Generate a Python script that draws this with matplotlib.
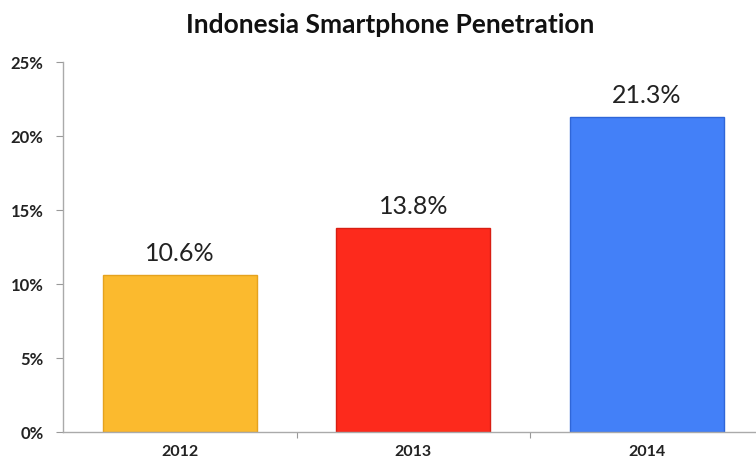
import matplotlib.pyplot as plt
from matplotlib.ticker import FuncFormatter

# data
years = ["2012", "2013", "2014"]
penetration = [10.6, 13.8, 21.3]
bar_colors = ["#FBBA2E", "#FD2A1C", "#4380F8"]
edge_colors = ["#E5A21E", "#D81E12", "#2F66D8"]

plt.rcParams["font.family"] = ["Lato", "DejaVu Sans"]

fig = plt.figure(figsize=(7.56, 4.65), dpi=100)
ax = fig.add_axes([63 / 756, 33 / 465, (756 - 63) / 756, 370 / 465])

x = range(len(years))
bars = ax.bar(x, penetration, width=0.66, color=bar_colors,
              edgecolor=edge_colors, linewidth=1.0, zorder=2)

for bar, val in zip(bars, penetration):
    ax.text(bar.get_x() + bar.get_width() / 2, val + 1.45, f"{val:.1f}%",
            ha="center", va="center", fontsize=18, color="#222222")

ax.set_xlim(-0.5, 2.467)
ax.set_ylim(0, 25)
ax.set_yticks([0, 5, 10, 15, 20, 25])
ax.yaxis.set_major_formatter(FuncFormatter(lambda v, _: f"{v:.0f}%"))

# year labels sit under the bars, tick marks sit between them
ax.set_xticks([0.5, 1.5])
ax.set_xticklabels([])
ax.set_xticks(list(x), minor=True)
ax.set_xticklabels(years, minor=True)
ax.tick_params(axis="x", which="minor", length=0, pad=9,
               labelsize=11.5, labelcolor="#222222")
ax.tick_params(axis="x", which="major", length=4, color="#999999")
ax.tick_params(axis="y", length=5, color="#999999", pad=9,
               labelsize=12, labelcolor="#222222")
for lbl in ax.get_yticklabels() + ax.get_xticklabels(minor=True):
    lbl.set_fontweight("bold")

for side in ("top", "right"):
    ax.spines[side].set_visible(False)
for side in ("left", "bottom"):
    ax.spines[side].set_color("#aaaaaa")
    ax.spines[side].set_linewidth(1.0)

fig.text(390 / 756, 1 - 25 / 465, "Indonesia Smartphone Penetration",
         ha="center", va="center", fontsize=19, fontweight="bold",
         color="#111111")

fig.savefig("out.png", dpi=100)
